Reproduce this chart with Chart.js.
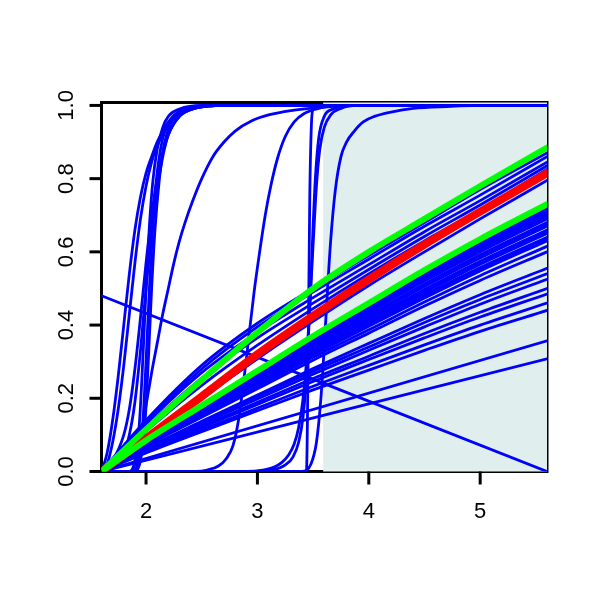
<!DOCTYPE html>
<html>
<head>
<meta charset="utf-8">
<script src="https://cdn.jsdelivr.net/npm/chart.js@4"></script>
<style>
  html, body { margin: 0; padding: 0; background: #fff; }
  #chart { display: block; }
</style>
</head>
<body>
<canvas id="chart" width="600" height="600"></canvas>
<script>
// ======================
// DATA
// ======================
const xTicks = [2, 3, 4, 5];
const yTicks = [0, 0.2, 0.4, 0.6, 0.8, 1.0];
const shadeRange = [3.59, 5.6];

// fan of curves, all read at these x positions
const fanX = [1.6, 2.0, 2.5, 3.0, 3.5, 4.0, 4.5, 5.0, 5.6];

const fanBlue = [
  [0, 0.140, 0.290, 0.405, 0.500, 0.590, 0.680, 0.770, 0.870],
  [0, 0.135, 0.280, 0.395, 0.490, 0.580, 0.670, 0.755, 0.860],
  [0, 0.130, 0.270, 0.380, 0.475, 0.565, 0.655, 0.740, 0.845],
  [0, 0.120, 0.255, 0.365, 0.460, 0.552, 0.642, 0.728, 0.835],
  [0, 0.110, 0.235, 0.345, 0.445, 0.540, 0.630, 0.715, 0.825],
  [0, 0.088, 0.200, 0.308, 0.410, 0.508, 0.600, 0.690, 0.795],
  [0, 0.084, 0.178, 0.271, 0.365, 0.454, 0.542, 0.626, 0.720],
  [0, 0.083, 0.176, 0.269, 0.362, 0.450, 0.538, 0.622, 0.715],
  [0, 0.082, 0.175, 0.268, 0.360, 0.447, 0.535, 0.618, 0.710],
  [0, 0.082, 0.174, 0.266, 0.357, 0.444, 0.531, 0.613, 0.705],
  [0, 0.081, 0.173, 0.264, 0.355, 0.441, 0.527, 0.609, 0.700],
  [0, 0.080, 0.171, 0.262, 0.352, 0.438, 0.523, 0.604, 0.695],
  [0, 0.080, 0.170, 0.260, 0.350, 0.435, 0.520, 0.600, 0.690],
  [0, 0.079, 0.168, 0.256, 0.345, 0.428, 0.512, 0.592, 0.680],
  [0, 0.079, 0.167, 0.255, 0.342, 0.425, 0.508, 0.587, 0.675],
  [0, 0.078, 0.165, 0.253, 0.340, 0.422, 0.505, 0.583, 0.670],
  [0, 0.077, 0.163, 0.249, 0.335, 0.416, 0.497, 0.574, 0.660],
  [0, 0.076, 0.162, 0.247, 0.332, 0.413, 0.493, 0.570, 0.655],
  [0, 0.075, 0.161, 0.245, 0.330, 0.410, 0.489, 0.566, 0.650],
  [0, 0.074, 0.158, 0.241, 0.324, 0.403, 0.482, 0.557, 0.640],
  [0, 0.074, 0.157, 0.240, 0.322, 0.400, 0.478, 0.553, 0.635],
  [0, 0.073, 0.156, 0.238, 0.319, 0.397, 0.474, 0.548, 0.630],
  [0, 0.071, 0.152, 0.232, 0.312, 0.387, 0.463, 0.535, 0.615],
  [0, 0.070, 0.148, 0.226, 0.304, 0.378, 0.452, 0.522, 0.600],
  [0, 0.064, 0.137, 0.209, 0.281, 0.350, 0.418, 0.483, 0.555],
  [0, 0.063, 0.133, 0.204, 0.274, 0.340, 0.407, 0.470, 0.540],
  [0, 0.061, 0.130, 0.198, 0.266, 0.331, 0.395, 0.457, 0.525],
  [0, 0.058, 0.124, 0.189, 0.254, 0.315, 0.377, 0.435, 0.500],
  [0, 0.056, 0.120, 0.183, 0.246, 0.306, 0.365, 0.422, 0.485],
  [0, 0.053, 0.114, 0.173, 0.233, 0.290, 0.346, 0.400, 0.460],
  [0, 0.051, 0.109, 0.166, 0.223, 0.277, 0.331, 0.383, 0.440]
];

const fanRed = [0, 0.090, 0.205, 0.320, 0.425, 0.525, 0.620, 0.710, 0.815];

const fanGreen = [
  [0, 0.115, 0.250, 0.380, 0.500, 0.600, 0.690, 0.780, 0.885],
  [0, 0.085, 0.180, 0.275, 0.370, 0.460, 0.550, 0.635, 0.730]
];

// straight lines, read at both ends
const straightX = [1.6, 5.6];
const straightBlue = [
  [0, 0.357],
  [0, 0.308],
  [0.48, 0]
];

// steep s-shaped curves
const sigmoidX = [
  [1.6, 1.65, 1.7, 1.75, 1.8, 1.85, 1.9, 1.95, 2.0, 2.05, 2.1, 2.15, 2.2, 2.3, 2.45, 2.7, 5.6],
  [1.6, 1.65, 1.7, 1.75, 1.8, 1.85, 1.9, 1.95, 2.0, 2.05, 2.1, 2.2, 2.3, 2.45, 2.7, 5.6],
  [1.6, 1.7, 1.8, 1.85, 1.9, 1.95, 2.0, 2.05, 2.1, 2.15, 2.2, 2.3, 2.45, 2.7, 5.6],
  [1.6, 1.85, 1.9, 1.94, 1.97, 2.0, 2.03, 2.06, 2.1, 2.15, 2.2, 2.3, 2.5, 5.6],
  [1.6, 1.88, 1.93, 1.97, 2.0, 2.03, 2.06, 2.09, 2.13, 2.18, 2.24, 2.35, 2.55, 5.6],
  [1.6, 1.9, 1.95, 1.99, 2.02, 2.05, 2.08, 2.12, 2.16, 2.22, 2.3, 2.45, 2.7, 5.6],
  [1.6, 1.7, 1.8, 1.85, 1.9, 1.95, 2.0, 2.05, 2.1, 2.15, 2.2, 2.3, 2.45, 2.7, 5.6],
  [1.6, 1.86, 1.9, 1.95, 2.0, 2.05, 2.1, 2.15, 2.2, 2.25, 2.3, 2.35, 2.42, 2.5, 2.6, 2.7, 2.8, 2.95, 3.1, 3.3, 3.55, 3.9, 5.6],
  [1.6, 2.45, 2.55, 2.65, 2.72, 2.78, 2.83, 2.87, 2.92, 2.97, 3.02, 3.07, 3.12, 3.18, 3.25, 3.33, 3.42, 3.55, 3.75, 5.6],
  [1.6, 2.9, 3.05, 3.15, 3.22, 3.28, 3.33, 3.37, 3.41, 3.44, 3.47, 3.5, 3.53, 3.56, 3.6, 3.66, 3.75, 3.9, 5.6],
  [1.6, 3.44, 3.455, 3.47, 3.485, 3.5, 3.55, 5.6],
  [1.6, 3.0, 3.15, 3.25, 3.32, 3.37, 3.41, 3.44, 3.46, 3.48, 3.5, 3.52, 3.55, 3.6, 3.68, 3.8, 5.6],
  [1.6, 3.4, 3.48, 3.53, 3.57, 3.6, 3.63, 3.66, 3.7, 3.75, 3.8, 3.87, 3.95, 4.05, 4.2, 4.4, 4.7, 5.1, 5.6]
];
const sigmoidY = [
  [0, 0.05, 0.14, 0.26, 0.4, 0.54, 0.66, 0.75, 0.815, 0.86, 0.9, 0.93, 0.955, 0.982, 0.996, 1, 1],
  [0, 0.02, 0.08, 0.17, 0.29, 0.43, 0.57, 0.69, 0.78, 0.845, 0.89, 0.945, 0.975, 0.993, 1, 1],
  [0, 0.03, 0.1, 0.17, 0.28, 0.42, 0.57, 0.7, 0.8, 0.87, 0.92, 0.97, 0.993, 1, 1],
  [0, 0, 0.03, 0.13, 0.3, 0.5, 0.67, 0.79, 0.88, 0.94, 0.97, 0.99, 1, 1],
  [0, 0, 0.03, 0.13, 0.3, 0.5, 0.67, 0.79, 0.88, 0.94, 0.97, 0.99, 1, 1],
  [0, 0, 0.03, 0.13, 0.3, 0.5, 0.66, 0.8, 0.89, 0.95, 0.98, 0.995, 1, 1],
  [0, 0.01, 0.05, 0.1, 0.19, 0.33, 0.5, 0.65, 0.77, 0.86, 0.92, 0.97, 0.993, 1, 1],
  [0, 0, 0.02, 0.09, 0.18, 0.27, 0.35, 0.43, 0.5, 0.57, 0.63, 0.68, 0.74, 0.8, 0.86, 0.9, 0.93, 0.958, 0.974, 0.986, 0.994, 1, 1],
  [0, 0, 0.004, 0.015, 0.035, 0.07, 0.14, 0.23, 0.36, 0.49, 0.6, 0.7, 0.78, 0.855, 0.915, 0.955, 0.978, 0.992, 1, 1],
  [0, 0, 0.004, 0.012, 0.025, 0.045, 0.075, 0.12, 0.2, 0.3, 0.45, 0.62, 0.78, 0.88, 0.94, 0.975, 0.992, 1, 1],
  [0, 0, 0.3, 0.75, 0.95, 0.99, 1, 1],
  [0, 0, 0.005, 0.018, 0.04, 0.08, 0.15, 0.26, 0.38, 0.52, 0.67, 0.8, 0.91, 0.97, 0.99, 1, 1],
  [0, 0, 0.02, 0.08, 0.2, 0.34, 0.5, 0.64, 0.77, 0.86, 0.9, 0.93, 0.955, 0.97, 0.982, 0.992, 0.997, 1, 1]
];

// ======================
// STYLE
// ======================
const BLUE = "#0000ff";
const RED = "#ff0000";
const GREEN = "#00ff00";
const SHADE = "#e0eeee";
const FONT = "22px 'Liberation Sans', Arial, Helvetica, sans-serif";

function toPoints(xs, ys) {
  return xs.map((x, i) => ({ x: x, y: ys[i] }));
}

function curve(points, color, width, order) {
  return {
    data: points,
    borderColor: color,
    borderWidth: width,
    pointRadius: 0,
    fill: false,
    cubicInterpolationMode: "monotone",
    borderCapStyle: "round",
    borderJoinStyle: "round",
    order: order
  };
}

const datasets = [];

fanGreen.forEach(ys => datasets.push(curve(toPoints(fanX, ys), GREEN, 6, 0)));
datasets.push(curve(toPoints(fanX, fanRed), RED, 8, 1));
fanBlue.forEach(ys => datasets.push(curve(toPoints(fanX, ys), BLUE, 2.8, 2)));
straightBlue.forEach(ys => datasets.push(curve(toPoints(straightX, ys), BLUE, 2.8, 2)));
sigmoidX.forEach((xs, i) => datasets.push(curve(toPoints(xs, sigmoidY[i]), BLUE, 2.8, 2)));

// ======================
// R-STYLE BOX, SHADE, AXES
// ======================
const rPlot = {
  id: "rPlot",
  beforeDatasetsDraw(chart) {
    const { ctx, chartArea: a, scales } = chart;
    ctx.save();
    ctx.strokeStyle = "#000";
    ctx.lineWidth = 3;
    ctx.strokeRect(a.left, a.top, a.right - a.left, a.bottom - a.top);

    // shaded band covers the inner half of the box
    const sx = scales.x.getPixelForValue(shadeRange[0]);
    const ex = scales.x.getPixelForValue(shadeRange[1]);
    ctx.fillStyle = SHADE;
    ctx.fillRect(sx, a.top, ex - sx, a.bottom - a.top);
    ctx.restore();
  },
  afterDraw(chart) {
    const { ctx, chartArea: a, scales } = chart;
    ctx.save();
    ctx.strokeStyle = "#000";
    ctx.fillStyle = "#000";
    ctx.lineWidth = 3;
    ctx.font = FONT;
    ctx.textAlign = "center";
    ctx.textBaseline = "middle";

    // x axis
    xTicks.forEach(v => {
      const px = scales.x.getPixelForValue(v);
      ctx.beginPath();
      ctx.moveTo(px, a.bottom);
      ctx.lineTo(px, a.bottom + 13);
      ctx.stroke();
      ctx.fillText(String(v), px, a.bottom + 40);
    });

    // y axis
    yTicks.forEach(v => {
      const py = scales.y.getPixelForValue(v);
      ctx.beginPath();
      ctx.moveTo(a.left, py);
      ctx.lineTo(a.left - 12, py);
      ctx.stroke();
      ctx.save();
      ctx.translate(a.left - 35, py);
      ctx.rotate(-Math.PI / 2);
      ctx.fillText(v.toFixed(1), 0, 0);
      ctx.restore();
    });
    ctx.restore();
  }
};

// ======================
// CHART
// ======================
new Chart(document.getElementById("chart"), {
  type: "line",
  data: { datasets: datasets },
  options: {
    responsive: false,
    animation: false,
    devicePixelRatio: 1,
    events: [],
    layout: {
      padding: { left: 101.5, right: 53, top: 102.5, bottom: 128.5 }
    },
    plugins: {
      legend: { display: false },
      tooltip: { enabled: false }
    },
    scales: {
      x: { type: "linear", min: 1.6, max: 5.6, display: false },
      y: { type: "linear", min: 0, max: 1.008, display: false }
    }
  },
  plugins: [rPlot]
});
</script>
</body>
</html>
